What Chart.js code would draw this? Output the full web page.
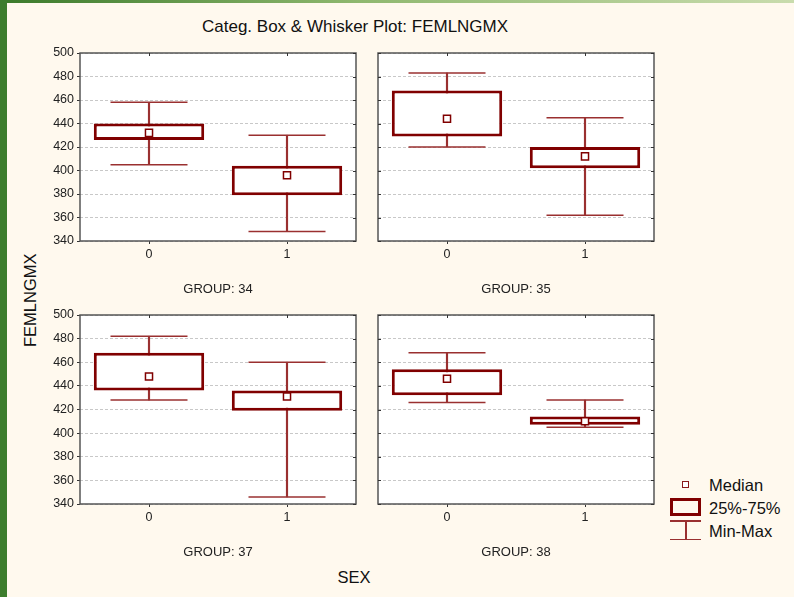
<!DOCTYPE html>
<html>
<head>
<meta charset="utf-8">
<script src="https://cdn.jsdelivr.net/npm/chart.js@4.4.1/dist/chart.umd.min.js"></script>
<style>
  body {
    margin: 0;
    width: 794px;
    height: 597px;
    position: relative;
    overflow: hidden;
    background: #fff9ee;
    font-family: "Liberation Sans", Arial, sans-serif;
    color: #111;
  }
  canvas { position: absolute; }
  .txt { position: absolute; white-space: nowrap; line-height: 1; }
  .topbar { position: absolute; left: 0; top: 0; width: 794px; height: 3px;
    background: linear-gradient(to right, #3b7a2a, #8fb86f 45%, #c9dcad); }
  .leftbar { position: absolute; left: 0; top: 0; width: 7px; height: 597px; background: #3d7d2d; }
  .lg { position: absolute; box-sizing: border-box; }
</style>
</head>
<body>
<div class="topbar"></div>
<div class="leftbar"></div>

<div class="txt" id="title" style="font-size:17px;">Categ. Box &amp; Whisker Plot: FEMLNGMX</div>
<div class="txt" id="ylabel" style="font-size:16.5px;">FEMLNGMX</div>
<div class="txt" id="xlabel" style="font-size:16.5px;">SEX</div>

<canvas id="p0" width="330" height="257" style="left:30px;top:43px"></canvas>
<canvas id="p1" width="290" height="257" style="left:368px;top:43px"></canvas>
<canvas id="p2" width="330" height="258" style="left:30px;top:305px"></canvas>
<canvas id="p3" width="290" height="258" style="left:368px;top:305px"></canvas>

<!-- legend -->
<div class="lg" style="left:682px;top:481px;width:7px;height:7px;border:1.5px solid #8b1a1a;background:#fff"></div>
<div class="lg" style="left:670px;top:498px;width:31px;height:18px;border:3px solid #800000"></div>
<div class="lg" style="left:670px;top:520px;width:31px;height:1.5px;background:#9a3030"></div>
<div class="lg" style="left:670px;top:538.5px;width:31px;height:1.5px;background:#9a3030"></div>
<div class="lg" style="left:685px;top:520px;width:1.5px;height:20px;background:#9a3030"></div>
<div class="txt" style="left:709px;top:477px;font-size:16.5px;">Median</div>
<div class="txt" style="left:709px;top:500px;font-size:16.5px;">25%-75%</div>
<div class="txt" style="left:709px;top:523px;font-size:16.5px;">Min-Max</div>

<script>
const sexLabels = ["0", "1"];
const groupNames = ["GROUP: 34", "GROUP: 35", "GROUP: 37", "GROUP: 38"];

// one pair [sex 0, sex 1] per group
const minVals = [[405, 348], [420, 362], [428, 346], [426, 405]];
const q1Vals = [[426, 379], [429, 402], [436, 419], [432, 407]];
const medianVals = [[432, 396], [444, 412], [448, 431], [446, 410]];
const q3Vals = [[440, 404], [468, 420], [468, 436], [454, 414]];
const maxVals = [[458, 430], [483, 445], [482, 460], [468, 428]];

const yMin = 340;
const yMax = 500;
const yStep = 20;

const boxColor = "#800000";
const whiskerColor = "#9a3030";
const fontFamily = "'Liberation Sans', Arial, sans-serif";

// place the html labels
function place(id, cx, cy, rotate) {
  const el = document.getElementById(id);
  const w = el.offsetWidth;
  const h = el.offsetHeight;
  el.style.left = cx - w / 2 + "px";
  el.style.top = cy - h / 2 + "px";
  if (rotate) el.style.transform = "rotate(-90deg)";
}
place("title", 355, 26);
place("ylabel", 30, 300, true);
place("xlabel", 354, 577);

// white plot area and the frame with its inner ticks
const framePlugin = {
  id: "frame",
  beforeDraw(chart) {
    const { ctx, chartArea: a } = chart;
    ctx.save();
    ctx.fillStyle = "#ffffff";
    ctx.fillRect(a.left, a.top, a.right - a.left, a.bottom - a.top);
    ctx.restore();
  },
  afterDraw(chart) {
    const { ctx, chartArea: a, scales } = chart;
    const inner = chart.options.plugins.frame.innerLeft;
    ctx.save();
    ctx.strokeStyle = "#555";
    ctx.lineWidth = 1.5;
    ctx.strokeRect(a.left, a.top, a.right - a.left, a.bottom - a.top);
    ctx.lineWidth = 1;
    ctx.strokeStyle = "#333";
    ctx.beginPath();
    scales.y.ticks.forEach((t) => {
      const py = Math.round(scales.y.getPixelForValue(t.value)) + 0.5;
      ctx.moveTo(a.right - 3, py);
      ctx.lineTo(a.right, py);
      if (inner) {
        ctx.moveTo(a.left, py);
        ctx.lineTo(a.left + 3, py);
      }
    });
    sexLabels.forEach((l, i) => {
      const px = Math.round(scales.x.getPixelForValue(i)) + 0.5;
      ctx.moveTo(px, a.top);
      ctx.lineTo(px, a.top + 3);
    });
    ctx.stroke();
    ctx.restore();
  },
};

function makePanel(canvasId, g, showY) {
  const ctx = document.getElementById(canvasId).getContext("2d");
  const yWidth = showY ? 50 : 10;

  return new Chart(ctx, {
    type: "bar",
    data: {
      labels: sexLabels,
      datasets: [
        {
          // median
          type: "line",
          data: medianVals[g],
          showLine: false,
          pointStyle: "rect",
          pointRadius: 5,
          pointBorderWidth: 1.5,
          pointBackgroundColor: "#ffffff",
          pointBorderColor: boxColor,
          order: 0,
        },
        {
          // upper caps
          type: "line",
          data: maxVals[g],
          showLine: false,
          pointStyle: "line",
          pointRadius: 38.5,
          pointBorderWidth: 1.5,
          pointBorderColor: whiskerColor,
          order: 1,
        },
        {
          // lower caps
          type: "line",
          data: minVals[g],
          showLine: false,
          pointStyle: "line",
          pointRadius: 38.5,
          pointBorderWidth: 1.5,
          pointBorderColor: whiskerColor,
          order: 1,
        },
        {
          // 25%-75% box
          data: q1Vals[g].map((q, i) => [q, q3Vals[g][i]]),
          backgroundColor: "#ffffff",
          borderColor: boxColor,
          borderWidth: 3,
          borderSkipped: false,
          grouped: false,
          barPercentage: 0.8,
          categoryPercentage: 1,
          order: 2,
        },
        {
          // whisker stem
          data: minVals[g].map((m, i) => [m, maxVals[g][i]]),
          backgroundColor: whiskerColor,
          barThickness: 1.5,
          grouped: false,
          order: 3,
        },
      ],
    },
    options: {
      responsive: false,
      animation: false,
      events: [],
      layout: {
        autoPadding: false,
        padding: { top: 10, right: 4, left: 0, bottom: 0 },
      },
      plugins: {
        legend: { display: false },
        tooltip: { enabled: false },
        frame: { innerLeft: !showY },
      },
      scales: {
        x: {
          offset: true,
          grid: {
            offset: false,
            drawOnChartArea: false,
            drawTicks: true,
            tickLength: 3,
            tickColor: "#333",
          },
          border: { display: false },
          ticks: {
            padding: 3,
            color: "#222",
            font: { family: fontFamily, size: 12.5 },
          },
          title: {
            display: true,
            text: groupNames[g],
            color: "#222",
            font: { family: fontFamily, size: 13 },
            padding: { top: 0, bottom: 2.5 },
          },
          afterFit(s) {
            s.height = 59;
            s.paddingLeft = 0;
            s.paddingRight = 0;
          },
        },
        y: {
          min: yMin,
          max: yMax,
          grid: {
            color: "#c8c8c8",
            lineWidth: 1,
            drawTicks: showY,
            tickLength: 3,
            tickColor: "#333",
            tickBorderDash: [],
          },
          border: { display: false, dash: [3, 2] },
          ticks: {
            display: showY,
            stepSize: yStep,
            padding: 3,
            color: "#222",
            font: { family: fontFamily, size: 12.5 },
          },
          afterFit(s) {
            s.width = yWidth;
            s.paddingTop = 0;
            s.paddingBottom = 0;
          },
        },
      },
    },
    plugins: [framePlugin],
  });
}

makePanel("p0", 0, true);
makePanel("p1", 1, false);
makePanel("p2", 2, true);
makePanel("p3", 3, false);
</script>
</body>
</html>
